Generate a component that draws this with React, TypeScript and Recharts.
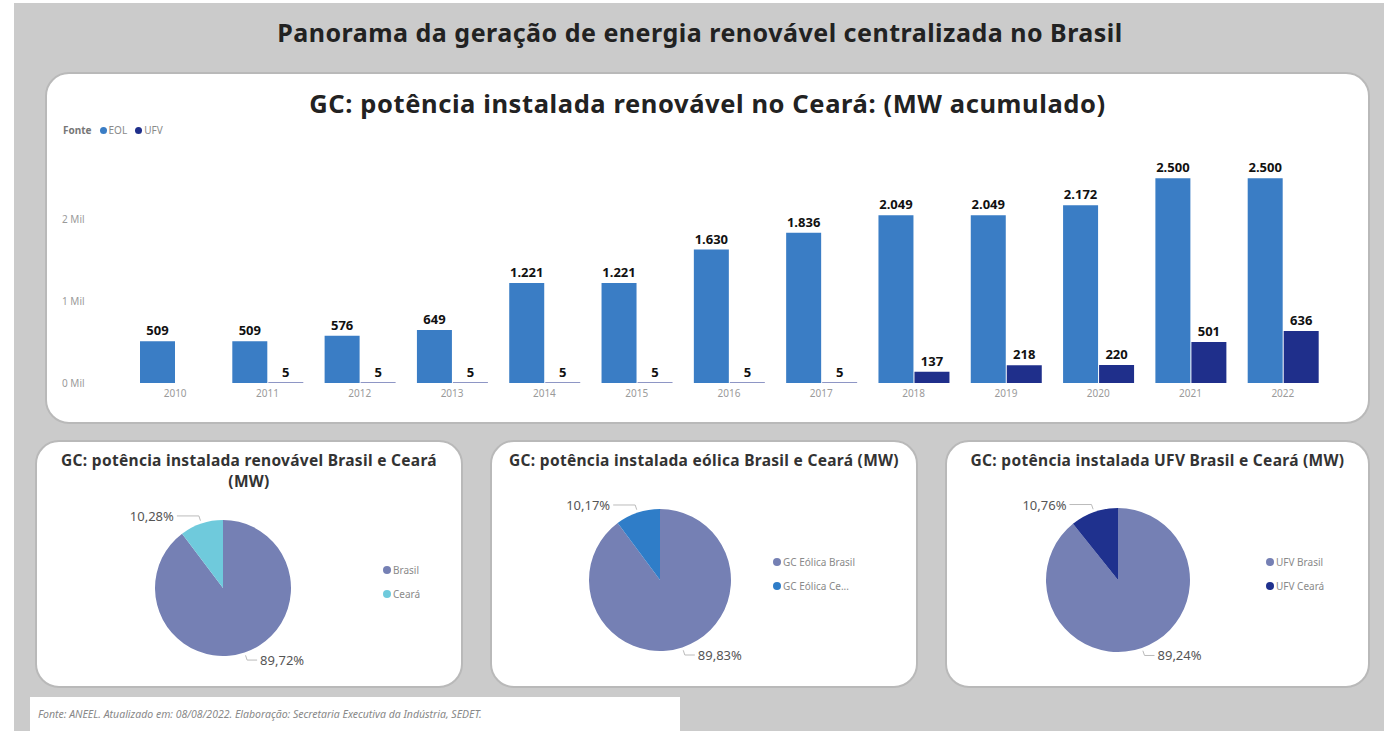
import React from 'react';
import { BarChart, Bar, XAxis, YAxis, LabelList, PieChart, Pie, Cell, Legend } from 'recharts';

// bar chart data (MW acumulado)
const years = ['2010', '2011', '2012', '2013', '2014', '2015', '2016', '2017', '2018', '2019', '2020', '2021', '2022'];
const eolMW = [509, 509, 576, 649, 1221, 1221, 1630, 1836, 2049, 2049, 2172, 2500, 2500];
const ufvMW = [null, 5, 5, 5, 5, 5, 5, 5, 137, 218, 220, 501, 636];
const yTicks = [0, 1000, 2000];

// pie data (%)
const renovNames = ['Brasil', 'Ceará'];
const renovPct = [89.72, 10.28];
const eolicaNames = ['GC Eólica Brasil', 'GC Eólica Ce...'];
const eolicaPct = [89.83, 10.17];
const ufvNames = ['UFV Brasil', 'UFV Ceará'];
const ufvPct = [89.24, 10.76];

const COLORS = {
  eol: '#3a7dc5',
  ufv: '#1f2f8b',
  brasil: '#7580b4',
  cearaRenov: '#6fcadc',
  cearaEol: '#2f7dc8',
  cearaUfv: '#1f318e',
};

const FONT = '"Noto Sans", "Open Sans", sans-serif';

const barData = years.map((y, i) => ({ year: y, EOL: eolMW[i], UFV: ufvMW[i] }));

const fmtMW = (v: any) => {
  if (v === null || v === undefined) return '';
  return String(v).replace(/\B(?=(\d{3})+(?!\d))/g, '.');
};

const YTick = ({ y, payload }: any) => (
  <text x={17} y={y} dy={4} fontSize={10} fill="#9a9a9a" fontFamily={FONT}>
    {payload.value / 1000} Mil
  </text>
);

const renderPct = (props: any) => {
  const { cx, cy, midAngle, outerRadius, value } = props;
  const RAD = Math.PI / 180;
  const cos = Math.cos(-midAngle * RAD);
  const sin = Math.sin(-midAngle * RAD);
  const sx = cx + (outerRadius + 3) * cos;
  const sy = cy + (outerRadius + 3) * sin;
  const mx = cx + (outerRadius + 8) * cos;
  const my = cy + (outerRadius + 8) * sin;
  const dir = cos >= 0 ? 1 : -1;
  const ex = mx + dir * (dir > 0 ? 10 : 22);
  return (
    <g>
      <polyline points={`${sx},${sy} ${mx},${my} ${ex},${my}`} fill="none" stroke="#bbbbbb" strokeWidth={1} />
      <text
        x={ex + dir * 3}
        y={my}
        textAnchor={dir > 0 ? 'start' : 'end'}
        dominantBaseline="central"
        fontSize={13}
        fill="#555"
        fontFamily={FONT}
      >
        {value.toFixed(2).replace('.', ',')}%
      </text>
    </g>
  );
};

const PieLegend = ({ payload }: any) => (
  <div style={{ fontFamily: FONT, fontSize: 10, color: '#8a8a8a' }}>
    {payload.map((p: any) => (
      <div key={p.value} style={{ display: 'flex', alignItems: 'center', height: 24 }}>
        <span style={{ width: 8, height: 8, borderRadius: 4, background: p.color, marginRight: 2 }} />
        {p.value}
      </div>
    ))}
  </div>
);

const panel: React.CSSProperties = {
  position: 'absolute',
  background: '#fff',
  border: '2px solid #b9b9b9',
  borderRadius: 24,
  boxSizing: 'border-box',
  overflow: 'hidden',
};

const PiePanel = ({ left, width, title, names, values, colors, cx, cy, r, legendLeft, legendTop }: any) => {
  const data = names.map((n: string, i: number) => ({ name: n, value: values[i] }));
  return (
    <div style={{ ...panel, left, top: 440, width, height: 248 }}>
      <div
        style={{
          position: 'absolute',
          top: 8,
          left: 0,
          width: '100%',
          textAlign: 'center',
          fontFamily: FONT,
          fontWeight: 700,
          fontSize: 15.5,
          letterSpacing: 0.3,
          lineHeight: '21px',
          color: '#333',
        }}
      >
        {title}
      </div>
      <div style={{ position: 'absolute', left: -2, top: -2 }}>
        <PieChart width={width} height={248}>
          <Pie
            data={data}
            dataKey="value"
            nameKey="name"
            cx={cx}
            cy={cy}
            outerRadius={r}
            startAngle={90}
            endAngle={-270}
            stroke="none"
            label={renderPct}
            labelLine={false}
            isAnimationActive={false}
          >
            {data.map((d: any, i: number) => (
              <Cell key={d.name} fill={colors[i]} />
            ))}
          </Pie>
          <Legend
            layout="vertical"
            content={<PieLegend />}
            wrapperStyle={{ left: legendLeft, top: legendTop, width: 120 }}
          />
        </PieChart>
      </div>
    </div>
  );
};

export default function App() {
  return (
    <div style={{ position: 'absolute', left: 0, top: 0, width: 1384, height: 731, background: '#fff', overflow: 'hidden' }}>
      <div style={{ position: 'absolute', left: 14, top: 3, width: 1370, height: 728, background: '#cbcbcb' }} />
      <div
        style={{
          position: 'absolute',
          top: 15,
          left: 0,
          width: 1400,
          textAlign: 'center',
          fontFamily: FONT,
          fontWeight: 700,
          fontSize: 25,
          letterSpacing: 0.5,
          color: '#222',
        }}
      >
        Panorama da geração de energia renovável centralizada no Brasil
      </div>

      <div style={{ ...panel, left: 45, top: 72, width: 1325, height: 352 }}>
        <div
          style={{
            position: 'absolute',
            top: 12,
            left: 0,
            width: '100%',
            textAlign: 'center',
            fontFamily: FONT,
            fontWeight: 700,
            fontSize: 25.5,
            letterSpacing: 0.6,
            color: '#222',
          }}
        >
          GC: potência instalada renovável no Ceará: (MW acumulado)
        </div>
        <div
          style={{
            position: 'absolute',
            top: 49,
            left: 16,
            fontFamily: FONT,
            fontSize: 10,
            color: '#8a8a8a',
            display: 'flex',
            alignItems: 'center',
          }}
        >
          <b style={{ color: '#777', marginRight: 8 }}>Fonte</b>
          <span style={{ width: 7, height: 7, borderRadius: 4, background: COLORS.eol, marginRight: 2 }} />
          <span style={{ marginRight: 8 }}>EOL</span>
          <span style={{ width: 7, height: 7, borderRadius: 4, background: COLORS.ufv, marginRight: 2 }} />
          <span>UFV</span>
        </div>
        <div style={{ position: 'absolute', left: -2, top: 66 }}>
          <BarChart
            width={1310}
            height={278}
            data={barData}
            margin={{ top: 22, right: 26, left: 0, bottom: 5 }}
            barSize={35}
            barGap={1}
          >
            <XAxis
              dataKey="year"
              axisLine={false}
              tickLine={false}
              tickSize={0}
              tickMargin={7}
              height={30}
              tick={{ fontSize: 10, fill: '#9a9a9a', fontFamily: FONT }}
            />
            <YAxis
              width={84}
              domain={[0, 2700]}
              ticks={yTicks}
              axisLine={false}
              tickLine={false}
              tick={<YTick />}
            />
            <Bar dataKey="EOL" fill={COLORS.eol} isAnimationActive={false}>
              <LabelList
                dataKey="EOL"
                position="top"
                offset={6}
                formatter={fmtMW}
                style={{ fontSize: 13, fontWeight: 700, fill: '#111', fontFamily: FONT }}
              />
            </Bar>
            <Bar dataKey="UFV" fill={COLORS.ufv} isAnimationActive={false}>
              <LabelList
                dataKey="UFV"
                position="top"
                offset={6}
                formatter={fmtMW}
                style={{ fontSize: 13, fontWeight: 700, fill: '#111', fontFamily: FONT }}
              />
            </Bar>
          </BarChart>
        </div>
      </div>

      <PiePanel
        left={35}
        width={428}
        title={<>GC: potência instalada renovável Brasil e Ceará<br />(MW)</>}
        names={renovNames}
        values={renovPct}
        colors={[COLORS.brasil, COLORS.cearaRenov]}
        cx={183}
        cy={143}
        r={68}
        legendLeft={348}
        legendTop={118}
      />
      <PiePanel
        left={490}
        width={428}
        title="GC: potência instalada eólica Brasil e Ceará (MW)"
        names={eolicaNames}
        values={eolicaPct}
        colors={[COLORS.brasil, COLORS.cearaEol]}
        cx={165}
        cy={135}
        r={71}
        legendLeft={283}
        legendTop={110}
      />
      <PiePanel
        left={945}
        width={425}
        title="GC: potência instalada UFV Brasil e Ceará (MW)"
        names={ufvNames}
        values={ufvPct}
        colors={[COLORS.brasil, COLORS.cearaUfv]}
        cx={168}
        cy={135}
        r={72}
        legendLeft={321}
        legendTop={110}
      />

      <div
        style={{
          position: 'absolute',
          left: 30,
          top: 697,
          width: 650,
          height: 40,
          background: '#fff',
          fontFamily: FONT,
          fontStyle: 'italic',
          fontSize: 10.5,
          color: '#888',
          padding: '10px 0 0 8px',
          boxSizing: 'border-box',
        }}
      >
        Fonte: ANEEL. Atualizado em: 08/08/2022. Elaboração: Secretaria Executiva da Indústria, SEDET.
      </div>
    </div>
  );
}
